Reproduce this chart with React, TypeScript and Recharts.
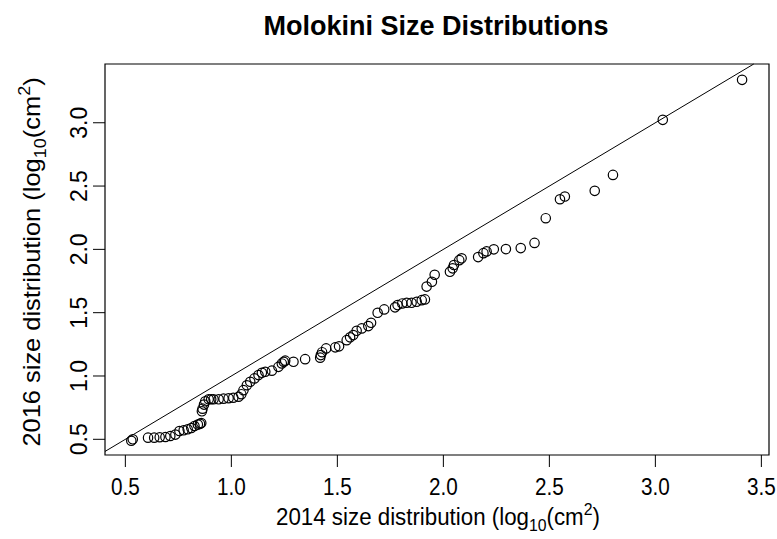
import React from 'react';
import {
  ScatterChart,
  Scatter,
  XAxis,
  YAxis,
  ReferenceArea,
  ReferenceLine,
  Customized,
} from 'recharts';

// quantiles, log10(cm^2)
const size2014 = [
  0.528, 0.535, 0.607, 0.636, 0.662, 0.689, 0.712, 0.736, 0.755, 0.775,
  0.794, 0.811, 0.826, 0.842, 0.852, 0.858, 0.861, 0.864, 0.871, 0.877,
  0.893, 0.905, 0.916, 0.940, 0.963, 0.987, 1.009, 1.034, 1.047, 1.057,
  1.073, 1.089, 1.109, 1.128, 1.144, 1.160, 1.191, 1.222, 1.238, 1.247,
  1.254, 1.293, 1.348, 1.419, 1.422, 1.428, 1.447, 1.490, 1.508, 1.544,
  1.560, 1.575, 1.591, 1.615, 1.646, 1.659, 1.690, 1.721, 1.772, 1.784,
  1.806, 1.827, 1.850, 1.874, 1.898, 1.913, 1.921, 1.946, 1.959, 2.031,
  2.044, 2.050, 2.075, 2.086, 2.164, 2.189, 2.204, 2.238, 2.295, 2.365,
  2.430, 2.483, 2.550, 2.573, 2.714, 2.800, 3.035, 3.409,
];
const size2016 = [
  0.488, 0.500, 0.513, 0.513, 0.516, 0.518, 0.526, 0.537, 0.565, 0.571,
  0.579, 0.589, 0.605, 0.616, 0.622, 0.628, 0.721, 0.742, 0.774, 0.800,
  0.816, 0.816, 0.816, 0.816, 0.821, 0.824, 0.828, 0.836, 0.856, 0.888,
  0.927, 0.954, 0.981, 1.007, 1.025, 1.033, 1.042, 1.072, 1.099, 1.112,
  1.121, 1.112, 1.133, 1.145, 1.165, 1.188, 1.218, 1.226, 1.234, 1.283,
  1.305, 1.323, 1.357, 1.376, 1.394, 1.420, 1.499, 1.526, 1.542, 1.560,
  1.573, 1.578, 1.578, 1.586, 1.599, 1.605, 1.706, 1.744, 1.799, 1.823,
  1.850, 1.876, 1.915, 1.929, 1.939, 1.970, 1.984, 2.000, 2.002, 2.010,
  2.051, 2.246, 2.396, 2.417, 2.462, 2.588, 3.023, 3.339,
];
const xTicks = [0.5, 1.0, 1.5, 2.0, 2.5, 3.0, 3.5];
const yTicks = [0.5, 1.0, 1.5, 2.0, 2.5, 3.0];

const points = size2014.map((x, i) => ({ x, y: size2016[i] }));

const xDomain: [number, number] = [0.404, 3.536];
const yDomain: [number, number] = [0.376, 3.464];

const FONT = '"Liberation Sans", Arial, Helvetica, sans-serif';

const OpenCircle = (props: any) => (
  <circle cx={props.cx} cy={props.cy} r={4.7} fill="none" stroke="#000" strokeWidth={1.2} />
);

const XTick = (props: any) => {
  const { x, y, payload } = props;
  return (
    <g transform={`translate(${x},${y}) scale(0.9,1)`}>
      <text x={0} y={0} dy="0.72em" textAnchor="middle" fontSize={23} fontFamily={FONT} fill="#000">
        {payload.value.toFixed(1)}
      </text>
    </g>
  );
};

const YTick = (props: any) => {
  const { x, y, payload } = props;
  return (
    <text
      x={x}
      y={y}
      transform={`rotate(-90, ${x}, ${y})`}
      textAnchor="middle"
      fontSize={23}
      fontFamily={FONT}
      fill="#000"
    >
      {payload.value.toFixed(1)}
    </text>
  );
};

const Labels = () => (
  <g fontFamily={FONT} fill="#000">
    <g transform="translate(436,35) scale(1.0,1)">
      <text x={0} y={0} textAnchor="middle" fontSize={27} fontWeight="bold">
        Molokini Size Distributions
      </text>
    </g>
    <g transform="translate(438,525) scale(0.93,1)">
      <text x={0} y={0} textAnchor="middle" fontSize={24}>
        2014 size distribution (log
        <tspan dy={6} fontSize={17}>10</tspan>
        <tspan dy={-6}>(cm</tspan>
        <tspan dy={-10} fontSize={17}>2</tspan>
        <tspan dy={10}>)</tspan>
      </text>
    </g>
    <g transform="translate(40,262) rotate(-90) scale(1.06,1)">
      <text x={0} y={0} textAnchor="middle" fontSize={24}>
        2016 size distribution (log
        <tspan dy={6} fontSize={17}>10</tspan>
        <tspan dy={-6}>(cm</tspan>
        <tspan dy={-10} fontSize={17}>2</tspan>
        <tspan dy={10}>)</tspan>
      </text>
    </g>
  </g>
);

export default function App() {
  return (
    <div style={{ position: 'absolute', left: 0, top: 0, background: '#fff' }}>
      <ScatterChart width={777} height={539} margin={{ top: 64, right: 8, bottom: 0, left: 0 }}>
        <XAxis
          type="number"
          dataKey="x"
          domain={xDomain}
          allowDataOverflow
          ticks={xTicks}
          interval={0}
          height={84}
          axisLine={false}
          tickLine={{ stroke: '#000', strokeWidth: 1 }}
          tickSize={12}
          tickMargin={11}
          tick={<XTick />}
        />
        <YAxis
          type="number"
          dataKey="y"
          domain={yDomain}
          allowDataOverflow
          ticks={yTicks}
          interval={0}
          width={105}
          axisLine={false}
          tickLine={{ stroke: '#000', strokeWidth: 1 }}
          tickSize={12}
          tickMargin={6}
          tick={<YTick />}
        />
        <ReferenceArea
          x1={xDomain[0]}
          x2={xDomain[1]}
          y1={yDomain[0]}
          y2={yDomain[1]}
          fill="none"
          stroke="#000"
          strokeWidth={1.2}
          fillOpacity={0}
          ifOverflow="visible"
        />
        <ReferenceLine
          segment={[
            { x: 0.404, y: 0.404 },
            { x: 3.464, y: 3.464 },
          ]}
          stroke="#000"
          strokeWidth={1}
          ifOverflow="visible"
        />
        <Scatter data={points} shape={<OpenCircle />} isAnimationActive={false} />
        <Customized component={<Labels />} />
      </ScatterChart>
    </div>
  );
}
